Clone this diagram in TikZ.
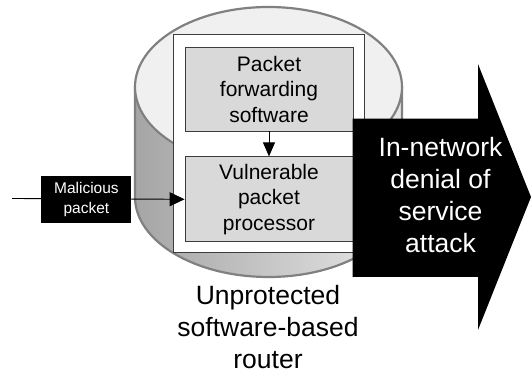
\documentclass[tikz,border=0pt]{standalone}
\usepackage{fontspec}
\setmainfont{Liberation Sans}
\usepackage{tikz}
\usetikzlibrary{arrows.meta,positioning}
\usepackage{xcolor}
\definecolor{rtedge}{RGB}{128,128,128}
\definecolor{rttop}{RGB}{240,240,240}
\definecolor{rtdark}{RGB}{165,165,165}
\definecolor{rtlight}{RGB}{232,232,232}
\definecolor{boxgray}{RGB}{217,217,217}
\definecolor{boxedge}{RGB}{60,60,60}
\tikzstyle{cylside} = [draw=rtedge, line width=2.2pt, left color=rtdark, right color=rtlight]
\tikzstyle{cyltop} = [draw=rtedge, line width=2.2pt, fill=rttop]
\tikzstyle{routerbox} = [rectangle, minimum width=190.5pt, minimum height=218pt, draw=boxedge, fill=white, line width=0.9pt]
\tikzstyle{stage} = [rectangle, minimum width=168pt, minimum height=84pt, align=center, draw=boxedge, fill=boxgray, line width=0.8pt, font=\fontsize{21}{25.5}\selectfont]
\tikzstyle{packet} = [rectangle, minimum width=90pt, minimum height=47pt, align=center, fill=black, text=white, font=\fontsize{15.5}{20}\selectfont]
\tikzstyle{link} = [line width=0.9pt, -{Triangle[length=15pt,width=14pt]}]
\tikzstyle{biglabel} = [align=center, font=\fontsize{26.5}{32}\selectfont]

\begin{document}
\begin{tikzpicture}[x=1pt, y=1pt]
\useasboundingbox (0,0) rectangle (531,372);
% Router cylinder
\path[cylside] (135,285) -- (135,175) arc[start angle=180, end angle=360, x radius=133.5pt, y radius=80pt] -- (402,285) -- cycle;
\path[cyltop] (268.5,285) ellipse [x radius=133.5pt, y radius=80pt];

% Software inside the router
\node (box) [routerbox] at (268.75,229) {};
\node (fwd) [stage] at (269,283) {Packet\\forwarding\\software};
\node (vpp) [stage, below=25pt of fwd, minimum height=85pt] {Vulnerable\\packet\\processor};

% Arrows
\coordinate (src) at (12,173.5);
\draw[link, -{Triangle[length=14pt,width=12pt]}] (fwd) -- (vpp);
\draw[link] (src) -- (vpp.west);
\node (mal) [packet, left=53pt of vpp] {Malicious\\packet};

% Attack arrow
\fill[black] (352.5,95) -- (352.5,253.4) -- (478,253.4) -- (478,308) -- (531,175) -- (478,42) -- (478,95) -- cycle;
\node (dos) [biglabel, text=white] at (440.5,176.5) {In-network\\denial of\\service\\attack};

% Router label
\node (router) [biglabel, inner sep=0pt] at (268,45) {Unprotected\\software-based\\router};
\end{tikzpicture}
\end{document}
